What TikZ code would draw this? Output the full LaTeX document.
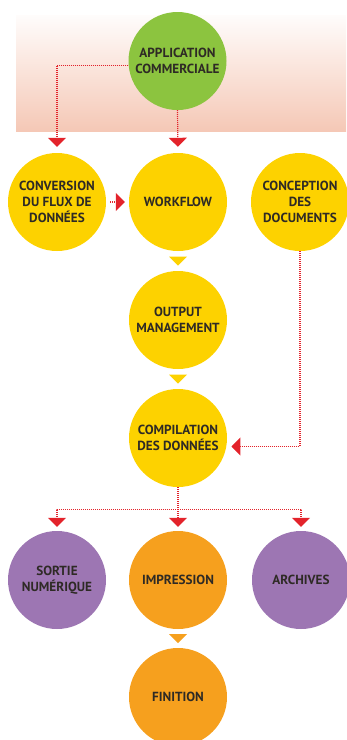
\documentclass[tikz,border=0pt]{standalone}
\usepackage{fontspec}
\setmainfont{PT Sans}
\usetikzlibrary{
  calc
  , arrows.meta
}
\definecolor{appgreen}{HTML}{8CC43F}
\definecolor{stepyellow}{HTML}{FDD200}
\definecolor{outpurple}{HTML}{9D76B3}
\definecolor{printorange}{HTML}{F6A01E}
\definecolor{linkred}{HTML}{E3232B}
\definecolor{bandpink}{HTML}{F5C8B6}
\definecolor{labeltext}{HTML}{2E2A25}
\tikzset{
  disc/.style={circle, minimum size=98pt, inner sep=0pt, align=center,
    text=labeltext, font=\bfseries\fontsize{13.2}{16}\selectfont},
  link/.style={draw=linkred, line width=1.2pt, dash pattern=on 1pt off 1pt,
    -{Triangle[width=18pt,length=9pt,fill=linkred]}},
}
\begin{document}
\begin{tikzpicture}[x=1pt,y=-1pt]
      \useasboundingbox (0,0) rectangle (346,740);
      % band behind the application
      \shade [top color=bandpink!5, bottom color=bandpink] (16,15) rectangle (346,131);

      \node [disc, fill=appgreen] (app) at (177.5,61) {APPLICATION\\COMMERCIALE};

      \node [disc, fill=stepyellow] (conv) at (57,202) {CONVERSION\\DU FLUX DE\\DONNÉES};
      \node [disc, fill=stepyellow] (wf) at (178,202) {WORKFLOW};
      \node [disc, fill=stepyellow] (conc) at (300,202) {CONCEPTION\\DES\\DOCUMENTS};
      \node [disc, fill=stepyellow] (om) at (178,320) {OUTPUT\\MANAGEMENT};
      \node [disc, fill=stepyellow] (comp) at (178,438) {COMPILATION\\DES DONNÉES};

      \node [disc, fill=outpurple] (sort) at (57,580) {SORTIE\\NUMÉRIQUE};
      \node [disc, fill=printorange] (imp) at (178,580) {IMPRESSION};
      \node [disc, fill=outpurple] (arch) at (301,580) {ARCHIVES};
      \node [disc, fill=printorange] (fin) at (178,697) {FINITION};

      % plain triangles between the steps
      \coordinate (t1) at ($(wf)!0.5!(om)$);
      \coordinate (t2) at ($(om)!0.5!(comp)$);
      \coordinate (t3) at ($(imp)!0.5!(fin)$);
      \fill [stepyellow] (t1) ++(-9,-4.5) -- ++(18,0) -- ++(-9,9) -- cycle;
      \fill [stepyellow] (t2) ++(-9,-4.5) -- ++(18,0) -- ++(-9,9) -- cycle;
      \fill [printorange] (t3) ++(-9,-4.5) -- ++(18,0) -- ++(-9,9) -- cycle;

      % dotted links
      \draw [link, shorten >=6pt] (app.185) -| (conv.north);
      \draw [link, shorten >=6pt] (app.south) -- (wf.north);
      \draw [link, shorten <=4pt, shorten >=4pt] (conv.east) -- (wf.west);
      \draw [link, shorten >=5pt] (conc.south) |- (comp.350);

      \coordinate (split) at ($(comp.south)+(0,22)$);
      \draw [link, shorten >=4pt] (comp.south) -- (imp.north);
      \draw [link, shorten >=4pt] (split) -| (sort.north);
      \draw [link, shorten >=4pt] (split) -| (arch.north);
    \end{tikzpicture}
\end{document}
